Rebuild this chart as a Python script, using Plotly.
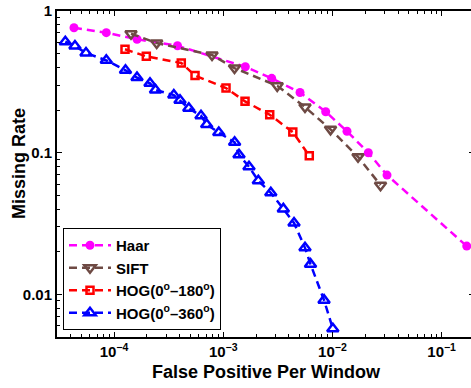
import plotly.graph_objects as go

# ---- data ----
haar_x = [4.30e-5, 8.50e-5, 1.625e-4, 3.815e-4, 1.594e-3, 2.78e-3, 5.05e-3, 8.68e-3, 0.0136, 0.02132, 0.03162, 0.1698]
haar_y = [0.762, 0.703, 0.632, 0.568, 0.404, 0.3348, 0.2657, 0.1944, 0.1416, 0.0998, 0.0695, 0.0219]

sift_x = [1.431e-4, 2.46e-4, 7.90e-4, 1.269e-3, 3.123e-3, 5.61e-3, 9.61e-3, 0.01716, 0.02757]
sift_y = [0.6914, 0.5943, 0.4889, 0.3958, 0.2963, 0.2099, 0.1461, 0.0935, 0.0590]

hog180_x = [1.261e-4, 1.976e-4, 4.132e-4, 5.52e-4, 1.061e-3, 1.584e-3, 2.666e-3, 4.338e-3, 6.14e-3]
hog180_y = [0.5365, 0.4787, 0.4294, 0.3504, 0.2859, 0.2303, 0.1852, 0.1398, 0.0951]

hog360_x = [3.58e-5, 4.39e-5, 5.54e-5, 8.50e-5, 1.274e-4, 1.624e-4, 2.136e-4, 2.399e-4, 3.528e-4,
            4.021e-4, 4.842e-4, 6.26e-4, 7.06e-4, 9.11e-4, 1.272e-3, 1.395e-3, 1.722e-3, 2.097e-3,
            2.728e-3, 3.552e-3, 4.45e-3, 5.61e-3, 6.30e-3, 8.38e-3, 0.01009]
hog360_y = [0.607, 0.566, 0.505, 0.4485, 0.3815, 0.3392, 0.3086, 0.2768, 0.2551,
            0.2341, 0.2055, 0.1822, 0.158, 0.1387, 0.1184, 0.0966, 0.0795, 0.0633,
            0.0521, 0.0401, 0.0319, 0.0213, 0.01634, 0.0091, 0.00572]

x_tickvals = [1e-4, 1e-3, 1e-2, 1e-1]
x_ticktext = ["10<sup>\u22124</sup>", "10<sup>\u22123</sup>", "10<sup>\u22122</sup>", "10<sup>\u22121</sup>"]
y_tickvals = [0.01, 0.1, 1]
y_ticktext = ["0.01", "0.1", "1"]

names = ["Haar", "SIFT", "HOG(0<sup>o</sup>\u2013180<sup>o</sup>)", "HOG(0<sup>o</sup>\u2013360<sup>o</sup>)"]

FONT = "Liberation Sans, Arial, sans-serif"
minor_vals = [m * 10 ** e for e in range(-5, 1) for m in range(2, 10)]

fig = go.Figure()

fig.add_trace(go.Scatter(
    x=haar_x, y=haar_y, name=names[0], mode="lines+markers",
    line=dict(color="#FF00FF", width=2.5, dash="8px,5px"),
    marker=dict(symbol="circle", size=9, color="#FF00FF")))
fig.add_trace(go.Scatter(
    x=sift_x, y=sift_y, name=names[1], mode="lines+markers",
    line=dict(color="#6E4A44", width=2.5, dash="8px,5px"),
    marker=dict(symbol="triangle-down-open", size=10, color="#6E4A44", line=dict(width=2.5))))
fig.add_trace(go.Scatter(
    x=hog180_x, y=hog180_y, name=names[2], mode="lines+markers",
    line=dict(color="#FF0000", width=2.5, dash="8px,5px"),
    marker=dict(symbol="square-open", size=7, color="#FF0000", line=dict(width=2.5))))
fig.add_trace(go.Scatter(
    x=hog360_x, y=hog360_y, name=names[3], mode="lines+markers",
    line=dict(color="#0000FF", width=2.5, dash="8px,5px"),
    marker=dict(symbol="triangle-up-open", size=10, color="#0000FF", line=dict(width=2.5))))
# empty trace to host the right-hand tick axis
fig.add_trace(go.Scatter(x=[], y=[], yaxis="y2", showlegend=False, hoverinfo="skip"))

fig.update_layout(
    width=471, height=388,
    margin=dict(l=57, r=0, t=11, b=51),
    paper_bgcolor="white", plot_bgcolor="white",
    font=dict(family=FONT, size=15, color="black", weight="bold"),
    showlegend=True,
    legend=dict(x=0.0145, y=0.0215, xanchor="left", yanchor="bottom",
                bgcolor="white", bordercolor="black", borderwidth=1,
                font=dict(family=FONT, size=15, color="black", weight="bold"),
                tracegroupgap=0, itemwidth=42),
    xaxis=dict(type="log", range=[-4.522, -0.731],
               tickvals=x_tickvals, ticktext=x_ticktext,
               ticks="inside", ticklen=5, tickwidth=1, tickcolor="black",
               showline=True, linewidth=2, linecolor="black", mirror="ticks",
               showgrid=False, zeroline=False,
               minor=dict(tickvals=minor_vals, ticks="inside", ticklen=3, tickcolor="black", showgrid=False),
               tickfont=dict(family=FONT, size=15, color="black", weight="bold")),
    yaxis=dict(type="log", range=[-2.301, 0.0],
               tickvals=y_tickvals, ticktext=y_ticktext,
               ticks="inside", ticklen=5, tickwidth=1, tickcolor="black",
               showline=True, linewidth=2, linecolor="black", mirror=False,
               showgrid=False, zeroline=False,
               minor=dict(tickvals=minor_vals, ticks="inside", ticklen=3, tickcolor="black", showgrid=False),
               tickfont=dict(family=FONT, size=15, color="black", weight="bold")),
    yaxis2=dict(type="log", range=[-2.301, 0.0], overlaying="y", side="right",
                tickvals=y_tickvals, showticklabels=False,
                ticks="inside", ticklen=2, tickcolor="black",
                showline=False, showgrid=False, zeroline=False),
    annotations=[
        dict(text="False Positive Per Window", xref="paper", yref="paper",
             x=0.505, y=-0.107, xanchor="center", yanchor="middle", showarrow=False,
             font=dict(family=FONT, size=18, color="black", weight="bold")),
        dict(text="Missing Rate", xref="paper", yref="paper", textangle=-90,
             x=-0.0918, y=0.534, xanchor="center", yanchor="middle", showarrow=False,
             font=dict(family=FONT, size=18, color="black", weight="bold")),
    ],
)

fig.write_html("out.html")
